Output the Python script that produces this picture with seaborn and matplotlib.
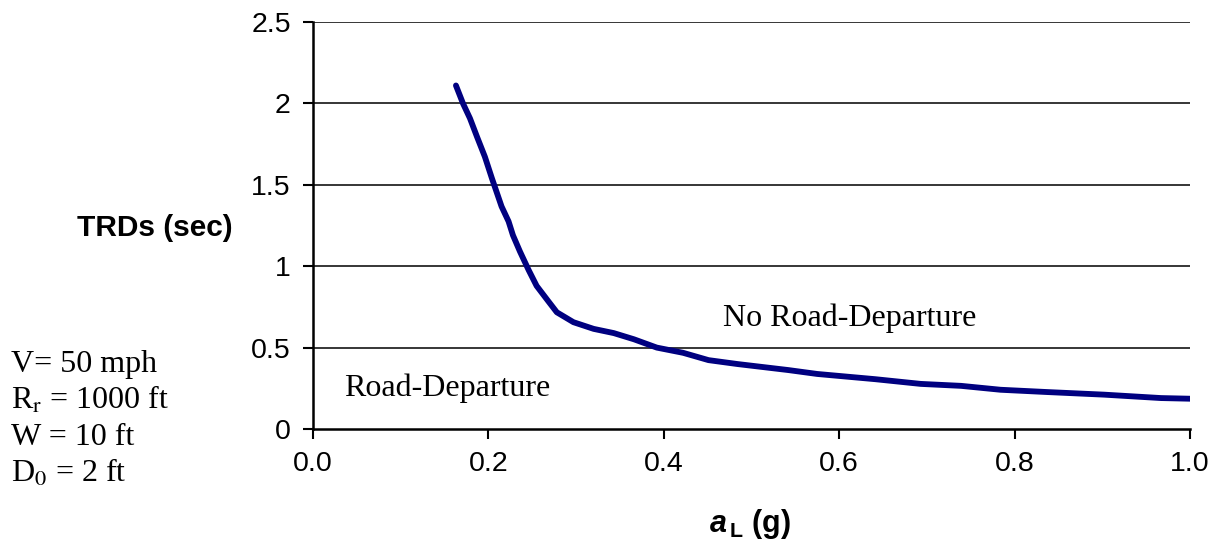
import numpy as np
import pandas as pd
import matplotlib
matplotlib.use("Agg")
import matplotlib.pyplot as plt
import seaborn as sns

# lateral acceleration (g) vs time to road departure (sec)
a_L = [0.163, 0.171, 0.179, 0.187, 0.196, 0.204, 0.215, 0.223, 0.228, 0.236,
       0.246, 0.255, 0.268, 0.278, 0.297, 0.320, 0.343, 0.366, 0.392, 0.422,
       0.451, 0.484, 0.542, 0.575, 0.641, 0.693, 0.739, 0.784, 0.837, 0.902,
       0.967, 1.0]
trds = [2.11, 2.0, 1.908, 1.795, 1.672, 1.54, 1.367, 1.275, 1.19, 1.09,
        0.975, 0.879, 0.787, 0.717, 0.656, 0.615, 0.589, 0.551, 0.5, 0.468,
        0.423, 0.399, 0.362, 0.338, 0.306, 0.277, 0.265, 0.241, 0.227, 0.211,
        0.19, 0.186]
x_ticks = [0.0, 0.2, 0.4, 0.6, 0.8, 1.0]
y_ticks = [0, 0.5, 1, 1.5, 2, 2.5]
params = ["V= 50 mph", r"R$_\mathrm{r}$ = 1000 ft", "W = 10 ft", r"D$_0$ = 2 ft"]

df = pd.DataFrame({"a_L": a_L, "TRDs": trds})

sns.set_style("white")
plt.rcParams["font.family"] = ["Liberation Sans", "DejaVu Sans"]
plt.rcParams["text.color"] = "black"
plt.rcParams["axes.labelcolor"] = "black"
plt.rcParams["mathtext.fontset"] = "custom"
plt.rcParams["mathtext.rm"] = "Liberation Sans:bold"
plt.rcParams["mathtext.it"] = "Liberation Sans:bold:italic"

fig = plt.figure(figsize=(12.16, 5.44), dpi=100)
ax = fig.add_axes([0.2574, 0.2114, 0.7212, 0.7482])

sns.lineplot(data=df, x="a_L", y="TRDs", color="#000080", linewidth=4.2, ax=ax,
             solid_capstyle="round")

ax.set_xlim(0, 1.0)
ax.set_ylim(0, 2.5)
ax.set_xticks(x_ticks)
ax.set_xticklabels([f"{t:.1f}" for t in x_ticks])
ax.set_yticks(y_ticks)
ax.set_yticklabels([f"{t:g}" for t in y_ticks])
ax.tick_params(axis="both", direction="out", length=7, width=1.5, labelsize=20.5,
               colors="black", bottom=True, left=True, pad=9)
for yt in y_ticks[1:]:
    ax.axhline(yt, color="black", linewidth=1.1, zorder=0)
sns.despine(ax=ax)
for s in ["left", "bottom"]:
    ax.spines[s].set_color("black")
    ax.spines[s].set_linewidth(1.8)
ax.set_xlabel("")
ax.set_ylabel("")

ax.text(0.612, 0.68, "No Road-Departure", ha="center", va="center",
        fontsize=23, family="Liberation Serif")
ax.text(0.153, 0.252, "Road-Departure", ha="center", va="center",
        fontsize=23, family="Liberation Serif")

fig.text(0.127, 0.581, "TRDs (sec)", ha="center", va="center",
         fontsize=21.5, fontweight="bold")
fig.text(0.617, 0.036, r"$a_{\,\mathrm{L}}$ (g)", ha="center", va="center",
         fontsize=22, fontweight="bold")

ys = [0.3162, 0.2482, 0.182, 0.114]
for txt, yy in zip(params, ys):
    fig.text(0.009, yy, txt, ha="left", va="baseline", fontsize=23,
             family="Liberation Serif", math_fontfamily="stix")

fig.savefig("out.png", dpi=100)
